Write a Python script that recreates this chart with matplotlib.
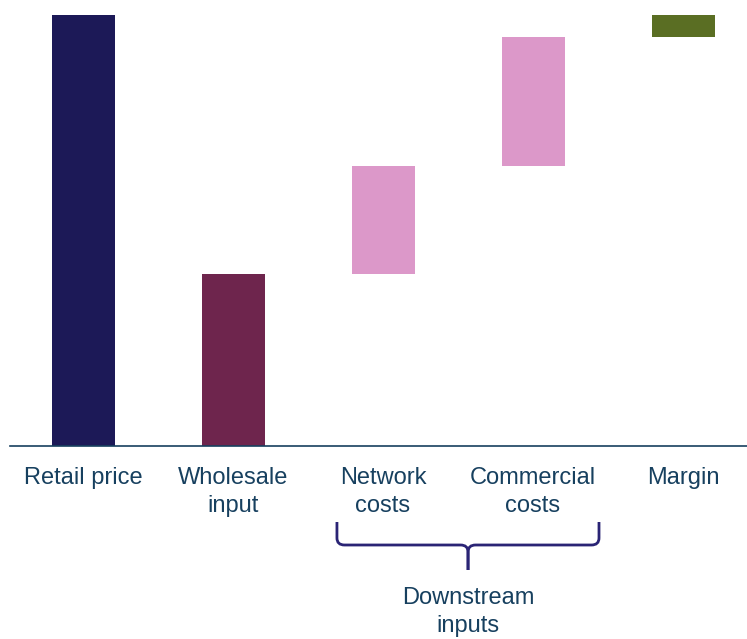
import matplotlib.pyplot as plt
from matplotlib.path import Path
from matplotlib.patches import PathPatch

plt.rcParams["font.family"] = ["Liberation Sans", "DejaVu Sans"]

# Waterfall components (retail price = 100)
categories = ["Retail price", "Wholesale\ninput", "Network\ncosts", "Commercial\ncosts", "Margin"]
heights = [100, 40, 25, 30, 5]
bottoms = [0, 0, 40, 65, 95]
colors = ["#1c1957", "#6e254d", "#dc98c9", "#dc98c9", "#5a6e23"]
text_color = "#17405f"

fig = plt.figure(figsize=(7.47, 6.39), dpi=100)
ax = fig.add_axes([10 / 747, (639 - 446) / 639, 737 / 747, (446 - 15) / 639])

x = list(range(len(categories)))
ax.bar(x, heights, bottom=bottoms, width=0.42, color=colors)

ax.set_xlim(-73 / 150, 664 / 150)
ax.set_ylim(0, 100)
for side in ["top", "right", "left"]:
    ax.spines[side].set_visible(False)
ax.spines["bottom"].set_color(text_color)
ax.spines["bottom"].set_linewidth(1.2)
ax.set_yticks([])
ax.set_xticks(x)
ax.set_xticklabels(categories, fontsize=17, color=text_color, linespacing=1.38)
ax.tick_params(axis="x", length=0, pad=15)

# Curly brace under the downstream costs
px = 1 / 4.31  # data units per pixel vertically
x0, x1, xm = 1.693, 3.44, 2.567
ytop, ymid, ytip = -76 * px, -99 * px, -124 * px
r = 0.05
for xe, s in [(x0, 1), (x1, -1)]:
    verts = [
        (xe, ytop), (xe, ymid + 7 * px),
        (xe, ymid), (xe + s * r, ymid),
        (xm - s * r, ymid),
        (xm, ymid), (xm, ymid - 7 * px),
        (xm, ytip),
    ]
    codes = [Path.MOVETO, Path.LINETO, Path.CURVE3, Path.CURVE3,
             Path.LINETO, Path.CURVE3, Path.CURVE3, Path.LINETO]
    ax.add_patch(PathPatch(Path(verts, codes), fill=False, edgecolor="#2a2475",
                           linewidth=2, clip_on=False))

ax.text(xm, -141 * px, "Downstream\ninputs", ha="center", va="top",
        fontsize=17, color=text_color, linespacing=1.38)

fig.savefig("out.png", dpi=100)
